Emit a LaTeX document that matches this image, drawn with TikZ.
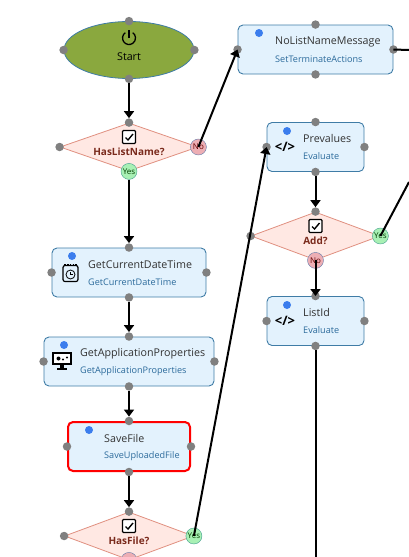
\documentclass[tikz,border=0pt]{standalone}
\usepackage{fontspec}
\setmainfont{Open Sans}
\usetikzlibrary{arrows.meta,calc,shapes.geometric}
\definecolor{startgreen}{HTML}{8AA83E}
\definecolor{stepfill}{HTML}{E3F2FD}
\definecolor{stepline}{HTML}{3F7CA6}
\definecolor{decfill}{HTML}{FFE8E3}
\definecolor{decline}{HTML}{E09080}
\definecolor{dectext}{HTML}{7A2A1C}
\definecolor{subtext}{HTML}{2B6A9B}
\definecolor{dotblue}{HTML}{3B7DED}
\definecolor{portgray}{HTML}{808080}
\definecolor{yesfill}{HTML}{A8F0B4}
\definecolor{yesline}{HTML}{3F9C8C}
\definecolor{nofill}{HTML}{EDAEB4}
\definecolor{noline}{HTML}{5E78A8}
\tikzset{
  stepbox/.style={draw=stepline,fill=stepfill,rectangle,rounded corners=5pt,minimum height=49pt,inner sep=0pt,line width=0.9pt},
  errbox/.style={stepbox,draw=red,line width=2pt},
  decbox/.style={draw=decline,fill=decfill,diamond,minimum height=48pt,inner sep=0pt,line width=0.8pt},
  startblk/.style={draw=stepline,fill=startgreen,ellipse,minimum width=130pt,minimum height=57pt,inner sep=0pt,line width=0.8pt},
  port/.style={circle,fill=portgray,minimum size=8.5pt,inner sep=0pt},
  yesbadge/.style={circle,draw=yesline,fill=yesfill,minimum size=16pt,inner sep=0pt,font=\fontsize{8}{8}\selectfont,text=green!25!black},
  nobadge/.style={circle,draw=noline,fill=nofill,minimum size=16pt,inner sep=0pt,font=\fontsize{8}{8}\selectfont,text=red!40!black},
  statusdot/.style={circle,fill=dotblue,minimum size=8pt,inner sep=0pt},
  ttl/.style={anchor=west,inner sep=0pt,font=\fontsize{10.7}{12}\selectfont,text=black!80},
  subttl/.style={anchor=west,inner sep=0pt,font=\fontsize{9.1}{10}\selectfont,text=subtext},
  declbl/.style={inner sep=0pt,font=\fontsize{10}{12}\selectfont\bfseries,text=dectext},
  chkbox/.style={draw=black,fill=white,rectangle,rounded corners=1pt,minimum size=13pt,inner sep=0pt,line width=1.2pt},
  codeicon/.style={inner sep=0pt,font=\fontsize{13}{14}\selectfont\bfseries},
  arr/.style={-{Triangle[length=7pt,width=10pt]},line width=2pt,black},
  ln/.style={line width=2pt,black}
}
\begin{document}
\begin{tikzpicture}[x=1pt,y=-1pt]
  \path[use as bounding box,clip] (0,0) rectangle (409,557);
  % Start
  \node[startblk] (start) at (129,50) {};
  \coordinate (pwr) at (129,38);
  \draw[line width=1.3pt] ($(pwr)+(-3.7,-5.3)$) arc[start angle=125,end angle=415,radius=6.5pt];
  \draw[line width=1.3pt] (pwr) -- ($(pwr)+(0,-8)$);
  \node[inner sep=0pt,font=\fontsize{10.7}{12}\selectfont] (startlbl) at (129,57) {Start};

  % Left column
  \node[decbox,minimum width=138pt] (haslist) at (129,147) {};
  \node[stepbox,minimum width=154pt] (gettime) at (129,272.5) {};
  \node[stepbox,minimum width=170pt] (getprops) at (129,361.5) {};
  \node[errbox,minimum width=122pt] (savefile) at (129,446.5) {};
  \node[decbox,minimum width=129pt] (hasfile) at (129,536) {};

  % Right column
  \node[stepbox,minimum width=155pt] (nolist) at (315.5,49.5) {};
  \node[stepbox,minimum width=97pt] (prevals) at (315.5,147) {};
  \node[decbox,minimum width=129pt] (addq) at (315.5,236) {};
  \node[stepbox,minimum width=97pt] (listid) at (315.5,321) {};

  % Ports
  \foreach \n in {start,haslist,gettime,getprops,savefile,hasfile,nolist,prevals,addq,listid}
    \foreach \a in {north,south,east,west}
      \node[port] (\n-\a) at (\n.\a) {};

  % Yes and No badges
  \node[nobadge] (haslistno) at (haslist.east) {No};
  \node[yesbadge] (haslistyes) at (haslist.south) {Yes};
  \node[yesbadge] (addyes) at (addq.east) {Yes};
  \node[nobadge] (addno) at (addq.south) {No};
  \node[yesbadge] (hasfileyes) at (hasfile.east) {Yes};
  \node[nobadge] (hasfileno) at (hasfile.south) {};

  % Decision texts
  \node[chkbox] (chkA) at (129,137) {};
  \node[declbl] (lblA) at (129,151.5) {HasListName?};
  \node[chkbox] (chkB) at (315.5,226) {};
  \node[declbl] (lblB) at (315.5,240.5) {Add?};
  \node[chkbox] (chkC) at (129,526) {};
  \node[declbl] (lblC) at (129,540.5) {HasFile?};
  \foreach \c in {chkA,chkB,chkC}
    \draw[line width=1.4pt] ($(\c)+(-3.5,0.5)$) -- ($(\c)+(-1,3)$) -- ($(\c)+(4,-3)$);

  % Status dots
  \node[statusdot] (dotA) at (72,256) {};
  \node[statusdot] (dotB) at (64,345) {};
  \node[statusdot] (dotC) at (89,430) {};
  \node[statusdot] (dotD) at (259,33) {};
  \node[statusdot] (dotE) at (287,131) {};
  \node[statusdot] (dotF) at (287,305) {};

  % Step texts
  \node[ttl] (ttlA) at (88,264.5) {GetCurrentDateTime};
  \node[subttl] (subA) at (88,282) {GetCurrentDateTime};
  \node[ttl] (ttlB) at (80,353.5) {GetApplicationProperties};
  \node[subttl] (subB) at (80,371) {GetApplicationProperties};
  \node[ttl] (ttlC) at (104,438.5) {SaveFile};
  \node[subttl] (subC) at (104,456) {SaveUploadedFile};
  \node[ttl] (ttlD) at (275,41.5) {NoListNameMessage};
  \node[subttl] (subD) at (275,59) {SetTerminateActions};
  \node[ttl] (ttlE) at (303,138.5) {Prevalues};
  \node[subttl] (subE) at (303,156) {Evaluate};
  \node[ttl] (ttlF) at (303,312.5) {ListId};
  \node[subttl] (subF) at (303,330) {Evaluate};
  \node[codeicon] (codeE) at (285,146.5) {</>};
  \node[codeicon] (codeF) at (285,321) {</>};

  % Calendar icon
  \node[draw,rounded corners=2pt,line width=1.2pt,minimum width=15pt,minimum height=16pt,inner sep=0pt] (cal) at (70.5,273.5) {};
  \draw[line width=1.8pt,dash pattern=on 1.5pt off 1.2pt] ($(cal.north west)+(2,-0.5)$) -- ($(cal.north east)+(-2,-0.5)$);
  \node[draw,circle,line width=0.8pt,minimum size=9pt,inner sep=0pt] (calclock) at ($(cal)+(0,1)$) {};
  \draw[line width=0.6pt] (calclock.center) -- ++(0,-3) (calclock.center) -- ++(2.5,0);

  % Monitor icon
  \node[draw,fill=white,line width=2pt,minimum width=18pt,minimum height=11pt,inner sep=0pt] (screen) at (62,358.5) {};
  \fill (screen.south) ++(-2,0) rectangle ++(4,3);
  \fill ($(screen.south)+(-5,3)$) rectangle ($(screen.south)+(5,4.5)$);
  \fill ($(screen)+(-3.5,0)$) circle[radius=2pt];
  \fill ($(screen)+(1,1)$) circle[radius=1.2pt];
  \fill ($(screen)+(5,-1)$) circle[radius=1.2pt];

  % Free ends
  \coordinate (msgend) at (409,50);
  \coordinate (addend) at (409,182);
  \coordinate (listend) at (315.5,557);

  % Connectors
  \draw[arr] (start-south) -- (haslist-north);
  \draw[arr] (haslistyes) -- (gettime-north);
  \draw[arr] (gettime-south) -- (getprops-north);
  \draw[arr] (getprops-south) -- (savefile-north);
  \draw[arr] (savefile-south) -- (hasfile-north);
  \draw[arr] (haslistno.center) -- (nolist-west.center);
  \draw[arr] (hasfileyes.center) -- (prevals-west.center);
  \draw[arr] (prevals-south) -- (addq-north);
  \draw[arr] (addno.center) -- (listid-north.center);
  \draw[ln] (nolist-east.center) -- (msgend);
  \draw[ln] (addyes.center) -- (addend);
  \draw[ln] (listid-south) -- (listend);
\end{tikzpicture}
\end{document}
